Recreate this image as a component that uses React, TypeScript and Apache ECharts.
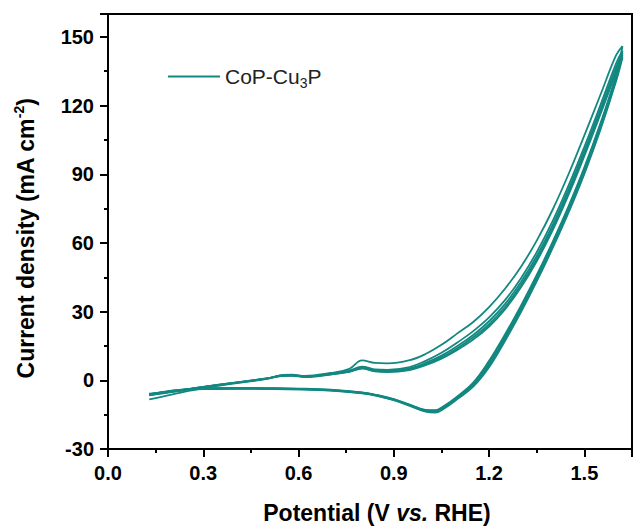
import React, { useEffect, useRef } from "react";
import * as echarts from "echarts";

// Potential grids (V vs. RHE)
const anodicV = [0.13, 0.2, 0.3, 0.4, 0.5, 0.55, 0.58, 0.62, 0.7, 0.76, 0.8, 0.84, 0.88, 0.95, 1.0, 1.05, 1.1, 1.15, 1.2, 1.25, 1.3, 1.35, 1.4, 1.45, 1.5, 1.55, 1.6, 1.62];
const cathodicV = [1.62, 1.6, 1.55, 1.5, 1.45, 1.4, 1.35, 1.3, 1.25, 1.2, 1.15, 1.1, 1.06, 1.03, 1.0, 0.95, 0.9, 0.85, 0.8, 0.7, 0.6, 0.5, 0.4, 0.3, 0.2, 0.13];

// Current density (mA cm^-2), forward sweeps per cycle
const anodic1 = [-8.3, -6.2, -3.4, -1.3, 0.6, 2.4, 2.5, 1.9, 3.2, 5.0, 8.7, 7.6, 7.4, 8.8, 11.5, 15.5, 20.5, 25.5, 32, 40, 49.5, 61, 74.5, 90, 107, 124.5, 142, 146];
const anodic2 = [-6.5, -5.2, -3.0, -1.1, 0.7, 2.2, 2.3, 1.7, 2.9, 4.2, 6.0, 4.8, 4.6, 5.8, 8.5, 12.0, 16.5, 21.5, 27.5, 35, 44.5, 56, 69.5, 85, 102, 120, 138.5, 144];
const anodic3 = [-6.0, -4.9, -2.9, -1.0, 0.8, 2.1, 2.2, 1.6, 2.7, 4.0, 5.6, 4.4, 4.1, 5.2, 7.6, 10.8, 15.0, 19.8, 25.8, 33.3, 42.8, 54.3, 67.8, 83.3, 100.3, 118.3, 136.8, 143];
const anodic4 = [-5.8, -4.8, -2.9, -1.0, 0.8, 2.0, 2.1, 1.5, 2.6, 3.8, 5.3, 4.1, 3.8, 4.8, 7.0, 10.0, 14.0, 18.8, 24.5, 32, 41.5, 53, 66.5, 82, 99, 117, 135.5, 142];
const anodic5 = [-6.0, -4.9, -3.0, -1.1, 0.7, 1.9, 2.0, 1.4, 2.5, 3.7, 5.1, 3.9, 3.6, 4.5, 6.6, 9.5, 13.3, 17.8, 23.5, 31, 40.5, 52, 65.5, 81, 98, 116, 134.5, 141];

// Reverse sweeps per cycle
const cathodic1 = [146, 133.5, 112, 93, 76, 60.5, 46, 32.5, 20, 8.5, -1.0, -7.0, -11.0, -13.0, -12.9, -10.6, -8.2, -6.5, -5.3, -4.1, -3.6, -3.4, -3.3, -3.4, -4.5, -6.2];
const cathodic2 = [144, 132.8, 111.3, 92.3, 75.3, 59.8, 45.3, 31.8, 19.3, 7.8, -1.5, -7.3, -11.3, -13.3, -13.1, -10.7, -8.3, -6.6, -5.4, -4.2, -3.7, -3.5, -3.4, -3.5, -4.6, -6.3];
const cathodic3 = [143, 132.1, 110.6, 91.6, 74.6, 59.1, 44.6, 31.1, 18.6, 7.1, -2.0, -7.6, -11.6, -13.6, -13.3, -10.9, -8.5, -6.7, -5.5, -4.3, -3.8, -3.6, -3.5, -3.6, -4.7, -6.4];
const cathodic4 = [142, 131.4, 109.9, 90.9, 73.9, 58.4, 43.9, 30.4, 17.9, 6.4, -2.4, -7.9, -11.9, -13.9, -13.5, -11.0, -8.6, -6.8, -5.6, -4.4, -3.9, -3.7, -3.6, -3.7, -4.8, -6.5];
const cathodic5 = [141, 130.7, 109.2, 90.2, 73.2, 57.7, 43.2, 29.7, 17.2, 5.7, -2.8, -8.2, -12.2, -14.1, -13.7, -11.2, -8.7, -6.9, -5.7, -4.5, -4.0, -3.8, -3.7, -3.8, -4.9, -6.6];

const anodicSweeps = [anodic1, anodic2, anodic3, anodic4, anodic5];
const cathodicSweeps = [cathodic1, cathodic2, cathodic3, cathodic4, cathodic5];

const seriesName = "CoP-Cu3P";
const FONT = 'Arial, "Liberation Sans", Helvetica, sans-serif';
const TEAL = "#138881";

export default function App() {
  const ref = useRef<HTMLDivElement>(null);

  useEffect(() => {
    if (!ref.current) return;
    const chart = echarts.init(ref.current, undefined, { renderer: "svg" });

    const mk = (data: number[][]) => ({
      name: seriesName,
      type: "line",
      symbol: "none",
      smooth: 0.4,
      lineStyle: { color: TEAL, width: 1.8 },
      itemStyle: { color: TEAL },
      data,
    });

    const series: any[] = [];
    anodicSweeps.forEach((arr) => series.push(mk(anodicV.map((v, i) => [v, arr[i]]))));
    cathodicSweeps.forEach((arr) => series.push(mk(cathodicV.map((v, i) => [v, arr[i]]))));

    const tickLabel = {
      color: "#000",
      fontFamily: FONT,
      fontWeight: "bold" as const,
      fontSize: 20,
    };

    const axisCommon = {
      axisLine: { show: true, onZero: false, lineStyle: { color: "#000", width: 2 } },
      axisTick: { show: true, inside: false, length: 8, lineStyle: { color: "#000", width: 2 } },
      minorTick: { show: true, splitNumber: 2, length: 4, lineStyle: { color: "#000", width: 2 } },
      splitLine: { show: false },
      minorSplitLine: { show: false },
    };

    chart.setOption({
      animation: false,
      backgroundColor: "#fff",
      grid: {
        left: 108,
        right: 9,
        top: 14,
        bottom: 81,
        show: true,
        borderColor: "#000",
        borderWidth: 2,
        backgroundColor: "transparent",
      },
      legend: {
        data: [seriesName],
        left: 163,
        top: 61,
        icon: "rect",
        itemWidth: 52,
        itemHeight: 2,
        itemGap: 8,
        itemStyle: { color: TEAL },
        formatter: () => "{a|CoP-Cu}{s|3}{a|P}",
        textStyle: {
          color: "#222",
          fontFamily: FONT,
          rich: {
            a: { fontSize: 21, fontFamily: FONT, color: "#222", lineHeight: 26 },
            s: { fontSize: 14, fontFamily: FONT, color: "#222", verticalAlign: "bottom" },
          },
        },
      },
      xAxis: {
        type: "value",
        min: 0,
        max: 1.65,
        interval: 0.3,
        name: "{b|Potential (V }{i|vs.}{b| RHE)}",
        nameLocation: "middle",
        nameGap: 50,
        nameTextStyle: {
          padding: [0, 0, 0, 14],
          rich: {
            b: { fontSize: 23, fontWeight: "bold", fontFamily: FONT, color: "#000", lineHeight: 28 },
            i: { fontSize: 23, fontWeight: "bold", fontStyle: "italic", fontFamily: FONT, color: "#000", lineHeight: 28 },
          },
        },
        ...axisCommon,
        axisLabel: {
          ...tickLabel,
          margin: 14,
          showMaxLabel: false,
          formatter: (v: number) => v.toFixed(1),
        },
      },
      yAxis: {
        type: "value",
        min: -30,
        max: 160,
        interval: 30,
        name: "{b|Current density (mA cm}{sup|-2}{b|)}",
        nameLocation: "middle",
        nameGap: 68,
        nameRotate: 90,
        nameTextStyle: {
          padding: [0, 14, 0, 0],
          rich: {
            b: { fontSize: 23, fontWeight: "bold", fontFamily: FONT, color: "#000", lineHeight: 28 },
            sup: { fontSize: 14, fontWeight: "bold", fontFamily: FONT, color: "#000", verticalAlign: "top" },
          },
        },
        ...axisCommon,
        axisLabel: { ...tickLabel, margin: 14, showMaxLabel: false },
      },
      series,
    });

    return () => chart.dispose();
  }, []);

  return (
    <div
      ref={ref}
      style={{ position: "fixed", left: 0, top: 0, width: 641, height: 530, background: "#fff" }}
    />
  );
}
